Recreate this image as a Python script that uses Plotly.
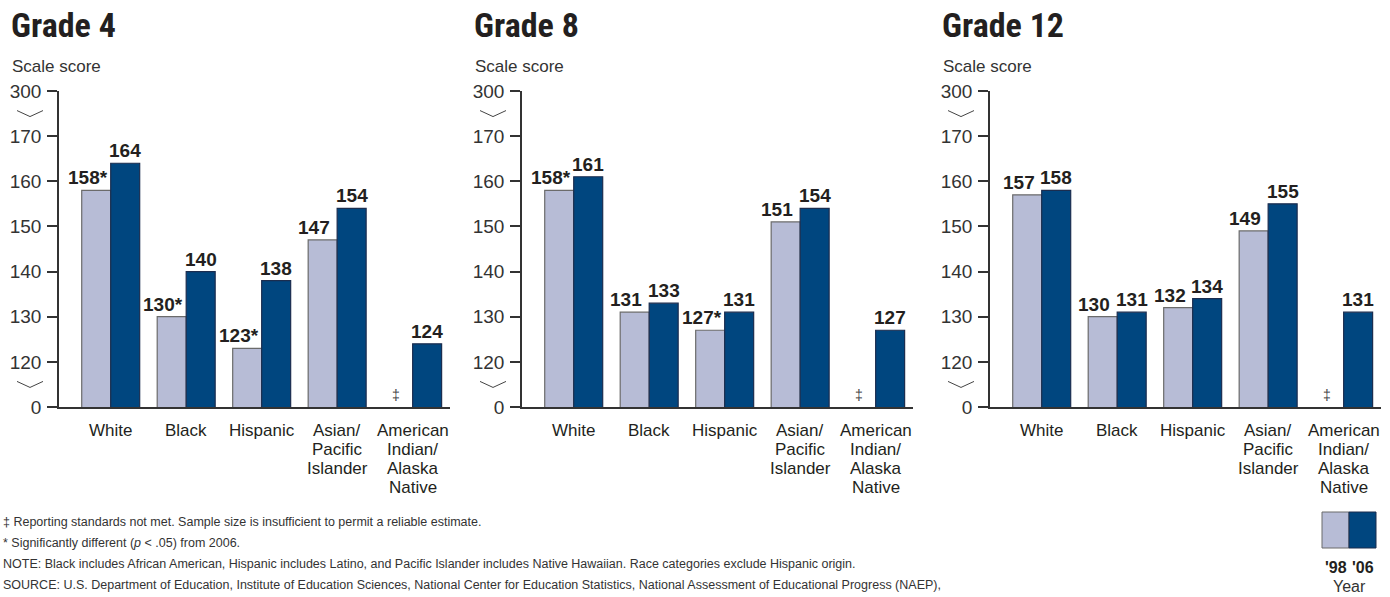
import plotly.graph_objects as go

W, H = 1390, 597

categories = ["White", "Black", "Hispanic", "Asian/Pacific Islander", "American Indian/Alaska Native"]
category_lines = [["White"], ["Black"], ["Hispanic"], ["Asian/", "Pacific", "Islander"],
                  ["American", "Indian/", "Alaska", "Native"]]
grades = ["Grade 4", "Grade 8", "Grade 12"]

# scores: 1998 and 2006 (None = reporting standards not met)
g4_1998 = [158, 130, 123, 147, None]
g4_2006 = [164, 140, 138, 154, 124]
g4_sig = [True, True, True, False, False]
g8_1998 = [158, 131, 127, 151, None]
g8_2006 = [161, 133, 131, 154, 127]
g8_sig = [True, False, True, False, False]
g12_1998 = [157, 130, 132, 149, None]
g12_2006 = [158, 131, 134, 155, 131]
g12_sig = [False, False, False, False, False]

tick_vals = [110, 120, 130, 140, 150, 160, 170, 180]
tick_text = ["0", "120", "130", "140", "150", "160", "170", "300"]

years = ["'98", "'06"]

LIGHT = "#b7bcd6"
LIGHT_LINE = "#6b6b6b"
DARK = "#00467f"
DARK_LINE = "#1b2d4f"
TXT = "#231f20"
FONT = "Liberation Sans, Arial, sans-serif"
TITLE_FONT = "Liberation Sans Narrow, Roboto Condensed, DejaVu Sans Condensed, Liberation Sans, sans-serif"

data = [(g4_1998, g4_2006, g4_sig), (g8_1998, g8_2006, g8_sig), (g12_1998, g12_2006, g12_sig)]
axis_px = [59, 522, 990]
plot_w = 391
ytop_px, ybot_px = 91, 407
ydom = [(H - ybot_px) / H, (H - ytop_px) / H]
yrange = [110, 180]
xrange_ = [-0.685, 4.495]

fig = go.Figure()
annotations = []
shapes = []

def px(x):
    return x / W

def py(y):
    return 1 - y / H

def yval_paper(v):
    return ydom[0] + (v - yrange[0]) / (yrange[1] - yrange[0]) * (ydom[1] - ydom[0])

for i, (s98, s06, sig) in enumerate(data):
    xa = "x" if i == 0 else f"x{i+1}"
    ya = "y" if i == 0 else f"y{i+1}"
    fig.add_trace(go.Bar(x=categories, y=s98, name=years[0], xaxis=xa, yaxis=ya,
                         marker=dict(color=LIGHT, line=dict(color=LIGHT_LINE, width=1.2)),
                         showlegend=False, hoverinfo="skip"))
    fig.add_trace(go.Bar(x=categories, y=s06, name=years[1], xaxis=xa, yaxis=ya,
                         marker=dict(color=DARK, line=dict(color=DARK_LINE, width=1.2)),
                         showlegend=False, hoverinfo="skip"))
    x0 = axis_px[i]
    dom = [px(x0), px(x0 + plot_w)]
    axkey = "xaxis" if i == 0 else f"xaxis{i+1}"
    aykey = "yaxis" if i == 0 else f"yaxis{i+1}"
    fig.update_layout(**{
        axkey: dict(domain=dom, anchor=ya, range=xrange_, type="category",
                    categoryorder="array", categoryarray=categories,
                    showticklabels=False,
                    showline=True, linecolor="#333333", linewidth=2,
                    ticks="", showgrid=False, zeroline=False, automargin=False,
                    fixedrange=True),
        aykey: dict(domain=ydom, anchor=xa, range=yrange,
                    tickvals=tick_vals, ticktext=tick_text,
                    showline=True, linecolor="#333333", linewidth=1.5,
                    ticks="outside", ticklen=10, tickwidth=1.5, tickcolor="#333333",
                    showgrid=False, zeroline=False, automargin=False,
                    tickfont=dict(family=FONT, size=19, color="#333333"),
                    ticklabelstandoff=2, fixedrange=True),
    })
    # category labels (one annotation per line)
    for c, lines in zip(categories, category_lines):
        for k, ln in enumerate(lines):
            annotations.append(dict(text=ln, x=c, y=yrange[0], xref=xa, yref=ya,
                                    xanchor="center", yanchor="top", yshift=-12 - 19 * k,
                                    showarrow=False, font=dict(family=FONT, size=17, color=TXT)))
    # titles
    annotations.append(dict(text=f"<b>{grades[i]}</b>", x=px(x0 - 50), y=py(25), xref="paper", yref="paper",
                            xanchor="left", yanchor="middle", showarrow=False,
                            font=dict(family=TITLE_FONT, size=34, color=TXT)))
    annotations.append(dict(text="Scale score", x=px(x0 - 49), y=py(67), xref="paper", yref="paper",
                            xanchor="left", yanchor="middle", showarrow=False,
                            font=dict(family=FONT, size=17, color="#333333")))
    # value labels
    for c, v98, v06, s in zip(categories, s98, s06, sig):
        if v98 is None:
            annotations.append(dict(text="‡", x=c, y=yrange[0], xref=xa, yref=ya, xanchor="center",
                                    yanchor="bottom", xshift=-17, yshift=2, showarrow=False,
                                    font=dict(family=FONT, size=14, color="#444444")))
        else:
            annotations.append(dict(text=f"<b>{v98}{'*' if s else ''}</b>", x=c, y=v98, xref=xa, yref=ya,
                                    xanchor="right", yanchor="bottom", xshift=(-1 if s else -5), yshift=0,
                                    showarrow=False, font=dict(family=FONT, size=19, color=TXT)))
        annotations.append(dict(text=f"<b>{v06}</b>", x=c, y=v06, xref=xa, yref=ya,
                                xanchor="center", yanchor="bottom", xshift=14.5, yshift=0,
                                showarrow=False, font=dict(family=FONT, size=19, color=TXT)))
    # axis break symbols
    for v in (115, 175):
        yc = yval_paper(v)
        dy = 3.0 / H
        xa0 = x0 - 42
        pts = [(xa0, yc + dy), (xa0 + 13, yc - dy), (xa0 + 26, yc + dy)]
        path = "M " + " L ".join(f"{px(a)},{b}" for a, b in pts)
        shapes.append(dict(type="path", path=path, xref="paper", yref="paper",
                           line=dict(color="#444444", width=1)))

# footnotes
notes = [
    "‡ Reporting standards not met. Sample size is insufficient to permit a reliable estimate.",
    "* Significantly different (<i>p</i> < .05) from 2006.",
    "NOTE: Black includes African American, Hispanic includes Latino, and Pacific Islander includes Native Hawaiian. Race categories exclude Hispanic origin.",
    "SOURCE: U.S. Department of Education, Institute of Education Sciences, National Center for Education Statistics, National Assessment of Educational Progress (NAEP),",
]
note_y = [522, 543, 564, 585]
for t, yy in zip(notes, note_y):
    annotations.append(dict(text=t, x=px(1), y=py(yy), xref="paper", yref="paper",
                            xanchor="left", yanchor="middle", showarrow=False,
                            font=dict(family=FONT, size=12.5, color="#333333")))

# legend (key)
lx0, lmid, lx1 = 1322, 1349, 1376
ly0, ly1 = 512, 548
shapes.append(dict(type="rect", x0=px(lx0), x1=px(lmid), y0=py(ly1), y1=py(ly0), xref="paper", yref="paper",
                   fillcolor=LIGHT, line=dict(color=LIGHT_LINE, width=1)))
shapes.append(dict(type="rect", x0=px(lmid), x1=px(lx1), y0=py(ly1), y1=py(ly0), xref="paper", yref="paper",
                   fillcolor=DARK, line=dict(color=DARK_LINE, width=1)))
for yr, cx in zip(years, [(lx0 + lmid) / 2, (lmid + lx1) / 2]):
    annotations.append(dict(text=f"<b>{yr}</b>", x=px(cx), y=py(567), xref="paper", yref="paper",
                            xanchor="center", yanchor="middle", showarrow=False,
                            font=dict(family=FONT, size=16, color=TXT)))
annotations.append(dict(text="Year", x=px(lmid), y=py(586), xref="paper", yref="paper",
                        xanchor="center", yanchor="middle", showarrow=False,
                        font=dict(family=FONT, size=16, color="#333333")))

fig.update_layout(
    width=W, height=H,
    margin=dict(l=0, r=0, t=0, b=0, autoexpand=False),
    paper_bgcolor="white", plot_bgcolor="white",
    barmode="group", bargap=0.232, bargroupgap=0,
    annotations=annotations, shapes=shapes,
    showlegend=False,
)

fig.write_html("out.html", config={"displayModeBar": False},
               post_script="document.body.style.margin='0';document.body.style.overflow='hidden';")
